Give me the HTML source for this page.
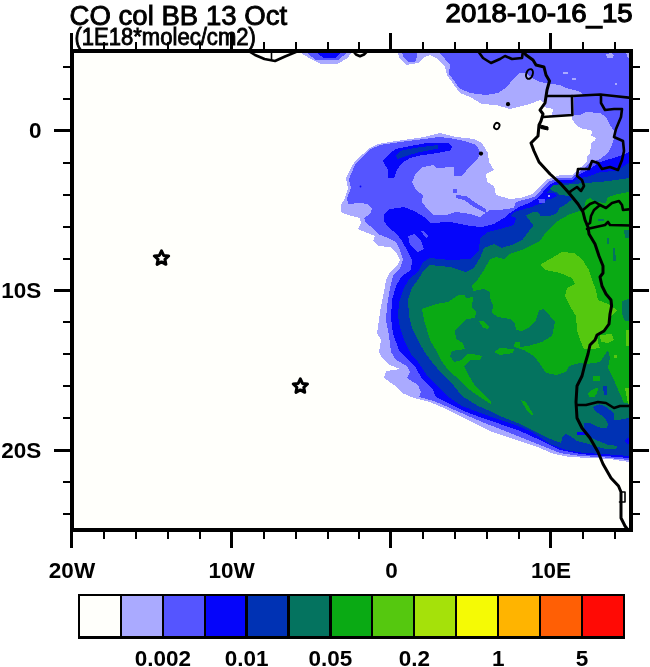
<!DOCTYPE html>
<html><head><meta charset="utf-8"><title>CO col BB 13 Oct</title>
<style>
html,body{margin:0;padding:0;background:#ffffff;}
body{width:650px;height:667px;overflow:hidden;}
svg{display:block;}
text{font-family:"Liberation Sans",sans-serif;fill:#000;}
.b{font-weight:bold;font-size:22.5px;}
svg{will-change:transform;}
</style></head><body>
<svg width="650" height="667" viewBox="0 0 650 667">
<rect x="0" y="0" width="650" height="667" fill="#ffffff"/>
<rect x="72" y="51" width="559" height="479" fill="#fffffb"/>
<defs><clipPath id="cp"><rect x="72" y="51" width="559" height="479"/></clipPath></defs>
<g clip-path="url(#cp)" shape-rendering="crispEdges">
<polygon fill="#aaaaff" points="301,49 301,53 309,58 320,63.5 338,63.5 348,58 351,53 351,49"/>
<polygon fill="#aaaaff" points="398,49 398,53 400,59 406,65 418,63 424,57 430,55 438,59 445,67 447,75 454,85 460,93 470,97 482,104 496,105 510,109 518,107 530,104 540,100 545,103 544,107 553,109 552,115 543,116.5 572,116 572.6,120.4 577.5,126 582.5,129 588,129.6 592.4,131 591,135.3 596,138 595,141 591.7,141.7 591,146.6 589.5,153.7 586.7,156.5 586.7,162 582.5,166.4 578,168.6 576,172 572,175 560,175 546,180 540,187 532,194 520,198 510,199 496,195 494,186 487,182 486,174 494,170 489,162 488,153 482,143 474,139 456,137 440,133 424,137 410,139 390,142 378,144 370,148 363,154 355,161 350,170 346,178 348,188 345,198 341,205 341,212 348,215 360,218 361,223 358,229 365,232 375,236 373,241 378,246 390,247 396,252 400,260 397,266 390,272 386,280 384,292 381,306 379,320 377,333 381,340 379,352 382,358 390,365 400,369 386,371 384,378 394,385 402,393 414,398 430,402 444,408 460,416 476,424 490,431 500,434.5 520,441 540,448 554,454 570,457 590,458 610,459 629,462 633,462 633,49"/>
<polygon fill="#5555ff" points="307,49 307,53 316,60 338,60 345.5,54 346,49"/>
<polygon fill="#5555ff" points="402,49 402,53 404,58 408,62 415,62 417,57 417,49"/>
<polygon fill="#5555ff" points="440,49 440,53 450,65 449,74 455,82 459,88 470,93 486,95 498,93 507,87 514,78 520,73 526,73 534,79 540,82 546,83 552,84 560,85 566,88 574,90 580,92 584,95 574,97 574,115 580,115 586,112 600,113 606,117 610,125 614,131 614,139 612,145 608,153 600,159 589,163 584,168.5 578,172.5 572,177.5 560,177.5 548,182 541,190 534,197 516,202 514,208 500,210 490,210 484,214 480,217 470,214 456,212 446,215 434,215 428,210 422,202 423,195 416,190 412,182 416,173 423,167 433,165 436,168 454,167 454,176 462,176 470,166 478,158 481,153 476,145 464,141 450,138 438,137 424,139 400,142 380,145 371,149 364,155 356,163 351,174 349,180 351,188 347,198 348,204 360,203 368,204 372,209 370,214 364,218 366,223 373,228 378,234 388,238 396,242 400,250 403,260 400,268 393,276 390,288 387,306 386,320 389,336 391,352 396,360 407,366 410,372 407,378 418,385 421,392 419,397 434,401 450,408 466,415 482,422 500,429 520,437 540,445 560,453 580,456 600,457 629,460 633,460 633,49"/>
<polygon fill="#5555ff" points="456,195 466,196 476,203 486,209 486,213 474,207 464,200 456,198"/>
<polygon fill="#5555ff" points="453,189 457,189 457,193 453,193"/>
<polygon fill="#0505fa" points="317,49 317,53 323,57.5 335.5,57.5 340,53 340,49"/>
<polygon fill="#0505fa" points="383,161 390,153 396,149 410,146 430,142.5 448,143 452,147 450,150.5 438,153 420,155.5 410,158 402,163 397,170 394,178 388,178 388,170"/>
<polygon fill="#0505fa" points="633,151 629,152 620,156 610,159 600,162 588,170 578,175 572,180 560,180 550,184.5 543,192 535,200.5 520,206.5 510,213 504,218 494,224 482,227 470,226 450,222 430,223 426,218 414,211 404,207 390,209 384,214 384,221 389,228 397,234 402,241 407,250 412,260 411,270 402,276 396,286 392,300 391,318 393,334 399,350 406,358 416,368 422,379 432,388 436,397 450,404 464,411 482,418 500,424 520,431 540,440 560,450 580,454 600,455.6 629,458 633,458"/>
<polygon fill="#5555ff" points="408,236 415,234 421,241 424,249 418,252 410,245"/>
<polygon fill="#5555ff" points="421,231 424,231 428,236 426,238"/>
<polygon fill="#0032b4" points="396,155 400,151 414,148 438,145 438,148.5 420,152 406,156 397,159"/>
<polygon fill="#0032b4" points="633,162 629,163 624,166 616,171 600,172 590,176 578,178.5 572,182.5 560,183 552,187.5 545,195 538,204.5 530,207.5 514,212 510,216 516,218 514,225 500,229 488,232 480,238 479,250 470,259 450,260 430,258 423,262 418,272 410,278 404,288 399,302 398,316 400,328 405,342 411,354 418,362 426,374 438,387 450,398 462,406 478,412 500,420 516,425 532,432 550,444 566,450 584,453 604,454 629,456 633,456"/>
<polygon fill="#04735f" points="633,178 629,178 616,180 600,182 584,183 562,185.2 553,185.2 550,188 552,191 556.8,192.3 559.3,194.8 569.5,196 572,199.5 566.7,203.4 559.3,208.3 556.8,213.2 550.7,215.7 540.8,216.3 538.4,212.6 533.5,212 526,215.7 533.5,225.5 527.3,233 522.4,240 514,244 502,248 494,244 484,248 480,258 474,268 466,272 450,267 430,265 424,270 419,278 412,288 408,300 409,316 412,328 420,344 426,354 432,362 442,374 454,386 462,396 478,406 490,411 500,416 520,424 540,434 548.5,438.3 561,443 562.6,437 566,434 572.5,437.6 576.8,441 586.7,443.5 596,446.5 606,449 616.4,448.5 617,446 608,444.7 596.6,440.4 590,437 586.7,435.5 584,431 584,423.4 589.5,422.7 596,426 602.3,428.4 607.2,427.7 608,424 606,420 602.3,415.7 596,412 593,407 599,404.3 605,406.3 610.5,410.3 614.5,414.4 613.8,420.5 624,419 629.3,417.8 633,417.8"/>
<polygon fill="#0505fa" points="576.8,432 586.7,432.5 586.7,434.8 576.8,434.5"/>
<polygon fill="#0505fa" points="624,441 627,438 633,437 633,444 627,444"/>
<polygon fill="#0505fa" points="526,204.5 537.2,198.5 543.3,193.5 554.4,193 557.5,195.4 552,198.5 545.8,199.7 545.2,202.8 538.5,204.5 530,207"/>
<polygon fill="#5555ff" points="538.4,198.8 545,198.5 545.2,202.5 539,202.8"/>
<polygon fill="#aaaaff" points="548.4,195.3 549.8,195.3 549.8,196.7 548.4,196.7"/>
<polygon fill="#0aaa14" points="633,192 629,192 618,194 608,197 606,203 596,202 590,198 586,200 584,208 580,211 570,214 556,222 546,232 540,241 524,249 510,254 504,259 496,257 490,259 484,270 478,279 472,285 473,291 484,289 490,292 490,298 493,305 492,313 498,317 510,319 515,323 516,330 522,331 528,328 536,320 539,310 544,309 550,316 555,322 552,336 542,342 528,346 520,347 520,342 515,342 514,347 524,350 534,356 540,364 546,373 556,375 566,372 569,366 580,363 586,364 600,362 608,350 610,358 608,368 614,380 620,394 624,403 633,404"/>
<polygon fill="#0aaa14" points="422,309 436,304 448,302 458,295.5 465,295 466,298 473,297 472,308 476,312 475,318 466,319 460,326 455,330 456,339 463,343 465,349 452,351 450,356 454,362 462,360 467,354 473,354 482,356 480,360 470,360 464,366 468,374 474,384 482,393 491,402 491,404.5 480,397 467,388 455,376 448,370 441,360 436,350 430,340 427,330 424,320"/>
<polygon fill="#0aaa14" points="479,321 483,321 489,327 488,329 483,328"/>
<polygon fill="#0aaa14" points="494,352 500,348 514,349 513,353 500,355"/>
<polygon fill="#0aaa14" points="521,400 526,402 533,414 532,416 527,411"/>
<polygon fill="#0aaa14" points="593,376 600,376 600,381 593,381"/>
<polygon fill="#0aaa14" points="589,397 588,393 593.6,388.8 598.3,388 597,393.5 594.3,397"/>
<polygon fill="#04735f" points="607,238 609,238 609,244 607,244"/>
<polygon fill="#04735f" points="613,248 615,248 616,261 613,261"/>
<polygon fill="#04735f" points="598,219 604,219 604,221 598,221"/>
<polygon fill="#04735f" points="624,230 633,230 633,238 625,238"/>
<polygon fill="#04735f" points="622,301 633,298 633,322 625,321 622,314"/>
<polygon fill="#0032b4" points="603,386 607,386 607,395 604,395"/>
<polygon fill="#55c80f" points="540,265 550,259 562,252 574,253 582,259 589,270 592,280 596,290 598,300 608,304 617,310 612,315 609,324 604,331 597,335 598,342 600,348 592,349 584,349 580,340 577,330 576,316 570,306 565,296 567,288 575,284 572,278 560,273 546,270"/>
<polygon fill="#55c80f" points="600,335 612,334 614,340 608,343 601,342"/>
<polygon fill="#55c80f" points="614,355 617,355 617,358 614,358"/>
<polygon fill="#55c80f" points="626,330 633,330 633,346 626,346"/>
<polygon fill="#55c80f" points="625,388 633,388 633,404 628,404"/>
<polygon fill="#aaaaff" points="606,54 611,53 614,55 613,58 607,58"/>
<polygon fill="#aaaaff" points="626,53 631,53 631,61 628,58"/>
<polygon fill="#aaaaff" points="563,72 568,72 568,73.5 563,73.5"/>
<polygon fill="#aaaaff" points="572,78 576,78 576,80 572,80"/>
<polygon fill="#aaaaff" points="615,83 617,83 617,85 615,85"/>
</g>
<g clip-path="url(#cp)" fill="none" stroke="#000" stroke-linejoin="round" stroke-linecap="round">
<polyline stroke-width="2.6" points="248.5,51 255,55 264.5,59 275,61 285,56.5 297,51.5"/>
<polyline stroke-width="1.6" points="271.5,51 271.5,60"/>
<polyline stroke-width="2.6" points="353.5,51.5 356,54.5 360,56.3 364,54.5 367,51.5"/>
<polyline stroke-width="2.6" points="478,51 483,58 491,63 500,59 505,56 512,59 522,58 523,51"/>
<polyline stroke-width="3" points="523,51 526,55 533,60 536,65 544,67 546,75 549.5,81 547,90 545,103 540,110 543,114 541,121 539,125 538,136 531,143 534,151 539,162 550,174 560,183 569,193 578,204 583,212 585,220 588,227 589,234 595,244 599,256 603,266 603,273 600,277 602,286 606,294 611,300 611.6,306 610,314 609,324 604,331 597,335 595,340 590,345 588,354 585,364 582,376 577,386 576,402 577,418 582,428 590,438 598,452 603,464 611,478 618.5,486 621,492 621,518 625,526 628,530"/>
<polyline stroke-width="2.6" points="547,96 572,96 600,94.5 614,96 632,98"/>
<polyline stroke-width="2.6" points="572,96 572.4,115 543,117"/>
<polyline stroke-width="2.6" points="601,95 601,103 605,110 614,109 622,109 621,117 616,129 614,137 623,141 624,151 622,160 618,170 610,167 602,169 598,163 592,161 589,169 578,169 577,176 582,180 584,186 581,191 577,187 571,191 569,193"/>
<polyline stroke-width="2.6" points="583,210 590,204 595,202 600,205 594,210 591,216 590,223 587,225"/>
<polyline stroke-width="2.6" points="600,205 606,208 612,203 619,201 622,205 623,210 632,209"/>
<polyline stroke-width="2.6" points="587,229 596,227 605,225 608,222 610,225 632,225.6"/>
<polyline stroke-width="2.6" points="577,405 586,405 598,402 606,403 614,408 620,406 632,406"/>
<polyline stroke-width="1.6" points="621,492 625,492 625,502 619.5,502"/>
<ellipse cx="529.5" cy="74" rx="3.2" ry="5" transform="rotate(20 529.5 74)" stroke-width="2"/>
<ellipse cx="496.8" cy="126" rx="2.6" ry="3.2" transform="rotate(25 496.8 126)" stroke-width="1.8"/>
<circle cx="508" cy="104.2" r="2.1" fill="#000" stroke="none"/>
<circle cx="481" cy="153.6" r="2.1" fill="#000" stroke="none"/>
<circle cx="360.5" cy="186.5" r="0.9" fill="#0505fa" stroke="none"/>
<path d="M540.5,125 L548,127 L548,130 L541,128.5 Z" fill="#000" stroke-width="1"/>
</g>
<rect x="72" y="51" width="559" height="479" fill="none" stroke="#000" stroke-width="4" shape-rendering="crispEdges"/>
<g fill="#000" shape-rendering="crispEdges">
<rect x="70" y="33" width="3" height="18"/><rect x="70" y="530" width="3" height="18"/>
<rect x="103" y="42" width="2" height="9"/><rect x="103" y="530" width="2" height="9"/>
<rect x="135" y="42" width="2" height="9"/><rect x="135" y="530" width="2" height="9"/>
<rect x="167" y="42" width="2" height="9"/><rect x="167" y="530" width="2" height="9"/>
<rect x="199" y="42" width="2" height="9"/><rect x="199" y="530" width="2" height="9"/>
<rect x="230" y="33" width="3" height="18"/><rect x="230" y="530" width="3" height="18"/>
<rect x="263" y="42" width="2" height="9"/><rect x="263" y="530" width="2" height="9"/>
<rect x="295" y="42" width="2" height="9"/><rect x="295" y="530" width="2" height="9"/>
<rect x="327" y="42" width="2" height="9"/><rect x="327" y="530" width="2" height="9"/>
<rect x="358" y="42" width="2" height="9"/><rect x="358" y="530" width="2" height="9"/>
<rect x="389" y="33" width="3" height="18"/><rect x="389" y="530" width="3" height="18"/>
<rect x="422" y="42" width="2" height="9"/><rect x="422" y="530" width="2" height="9"/>
<rect x="454" y="42" width="2" height="9"/><rect x="454" y="530" width="2" height="9"/>
<rect x="486" y="42" width="2" height="9"/><rect x="486" y="530" width="2" height="9"/>
<rect x="518" y="42" width="2" height="9"/><rect x="518" y="530" width="2" height="9"/>
<rect x="549" y="33" width="3" height="18"/><rect x="549" y="530" width="3" height="18"/>
<rect x="582" y="42" width="2" height="9"/><rect x="582" y="530" width="2" height="9"/>
<rect x="614" y="42" width="2" height="9"/><rect x="614" y="530" width="2" height="9"/>
<rect x="63" y="66" width="9" height="2"/><rect x="631" y="66" width="9" height="2"/>
<rect x="63" y="98" width="9" height="2"/><rect x="631" y="98" width="9" height="2"/>
<rect x="54" y="129" width="18" height="3.4"/><rect x="631" y="129" width="18" height="3"/>
<rect x="63" y="162" width="9" height="2"/><rect x="631" y="162" width="9" height="2"/>
<rect x="63" y="194" width="9" height="2"/><rect x="631" y="194" width="9" height="2"/>
<rect x="63" y="226" width="9" height="2"/><rect x="631" y="226" width="9" height="2"/>
<rect x="63" y="258" width="9" height="2"/><rect x="631" y="258" width="9" height="2"/>
<rect x="54" y="289" width="18" height="3.4"/><rect x="631" y="289" width="18" height="3"/>
<rect x="63" y="321" width="9" height="2"/><rect x="631" y="321" width="9" height="2"/>
<rect x="63" y="353" width="9" height="2"/><rect x="631" y="353" width="9" height="2"/>
<rect x="63" y="385" width="9" height="2"/><rect x="631" y="385" width="9" height="2"/>
<rect x="63" y="417" width="9" height="2"/><rect x="631" y="417" width="9" height="2"/>
<rect x="54" y="449" width="18" height="3.4"/><rect x="631" y="449" width="18" height="3"/>
<rect x="63" y="481" width="9" height="2"/><rect x="631" y="481" width="9" height="2"/>
<rect x="63" y="513" width="9" height="2"/><rect x="631" y="513" width="9" height="2"/>
</g>
<polygon points="161.50,250.80 163.62,255.39 168.63,255.98 164.92,259.41 165.91,264.37 161.50,261.90 157.09,264.37 158.08,259.41 154.37,255.98 159.38,255.39" fill="#fffffb" stroke="#000" stroke-width="3.0" stroke-linejoin="round"/>
<polygon points="300.35,378.80 302.47,383.39 307.48,383.98 303.77,387.41 304.76,392.37 300.35,389.90 295.94,392.37 296.93,387.41 293.22,383.98 298.23,383.39" fill="#fffffb" stroke="#000" stroke-width="3.0" stroke-linejoin="round"/>
<text x="69.6" y="24.7" font-size="26.8" textLength="217.5" lengthAdjust="spacingAndGlyphs" stroke="#000" stroke-width="0.85">CO col BB 13 Oct</text>
<text transform="translate(74.4,44.9) scale(1,1.065)" x="0" y="0" font-size="21.6" textLength="181.5" lengthAdjust="spacingAndGlyphs" stroke="#000" stroke-width="0.8">(1E18*molec/cm2)</text>
<text x="445.6" y="21.6" font-size="26.6" textLength="187" lengthAdjust="spacingAndGlyphs" stroke="#000" stroke-width="1.25">2018-10-16<tspan dy="1">_</tspan><tspan dy="-1">15</tspan></text>
<text class="b" x="72" y="578.4" text-anchor="middle">20W</text>
<text class="b" x="231.7" y="578.4" text-anchor="middle">10W</text>
<text class="b" x="391.4" y="578.4" text-anchor="middle">0</text>
<text class="b" x="551.1" y="578.4" text-anchor="middle">10E</text>
<text class="b" x="41.4" y="138.35" text-anchor="end">0</text>
<text class="b" x="41.4" y="298.05" text-anchor="end">10S</text>
<text class="b" x="41.4" y="457.75" text-anchor="end">20S</text>
<g shape-rendering="crispEdges"><rect x="78" y="594" width="547" height="45" fill="#000"/>
<rect x="80.00" y="596" width="39.70" height="40" fill="#fffffb"/>
<rect x="121.92" y="596" width="39.70" height="40" fill="#aaaaff"/>
<rect x="163.84" y="596" width="39.70" height="40" fill="#5555ff"/>
<rect x="205.76" y="596" width="39.70" height="40" fill="#0505fa"/>
<rect x="247.68" y="596" width="39.70" height="40" fill="#0032b4"/>
<rect x="289.60" y="596" width="39.70" height="40" fill="#04735f"/>
<rect x="331.52" y="596" width="39.70" height="40" fill="#0aaa14"/>
<rect x="373.44" y="596" width="39.70" height="40" fill="#55c80f"/>
<rect x="415.36" y="596" width="39.70" height="40" fill="#a5e10a"/>
<rect x="457.28" y="596" width="39.70" height="40" fill="#f5fa05"/>
<rect x="499.20" y="596" width="39.70" height="40" fill="#ffb400"/>
<rect x="541.12" y="596" width="39.70" height="40" fill="#ff5f05"/>
<rect x="583.04" y="596" width="39.70" height="40" fill="#ff0a05"/>
</g>
<text class="b" x="162.8" y="665.6" text-anchor="middle">0.002</text>
<text class="b" x="246.7" y="665.6" text-anchor="middle">0.01</text>
<text class="b" x="330.5" y="665.6" text-anchor="middle">0.05</text>
<text class="b" x="414.4" y="665.6" text-anchor="middle">0.2</text>
<text class="b" x="498.2" y="665.6" text-anchor="middle">1</text>
<text class="b" x="582.0" y="665.6" text-anchor="middle">5</text>
</svg>
</body></html>
